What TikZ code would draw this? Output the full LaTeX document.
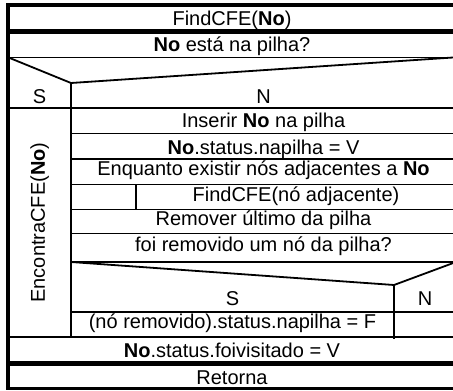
\documentclass[tikz,border=0pt]{standalone}
\usepackage{fontspec}
\setmainfont{Liberation Sans}
\begin{document}
\begin{tikzpicture}[x=1pt,y=-1pt,
  txt/.style={anchor=base,inner sep=0pt,font=\fontsize{20}{24}\selectfont},
  rule/.style={line width=1.8pt},
  heavy/.style={line width=5pt},
  frame/.style={line width=3.6pt},
  hair/.style={line width=1pt}]
\useasboundingbox (0,0) rectangle (453,391);
% frame
\draw[frame] (453,5) -- (8,5) -- (8,388.5) -- (453,388.5);
\draw[heavy] (8,31.7) -- (453,31.7);
\draw[hair] (8,57.3) -- (453,57.3);
% first decision
\draw[rule] (8,57.3) -- (71,83) -- (453,57.5);
\draw[rule] (8,108.3) -- (453,108.3);
\draw[rule] (71,83) -- (71,337);
\foreach \yy in {133.5,159.3,184.5,209.5,233.5}
  \draw[rule] (71,\yy) -- (453,\yy);
\draw[rule] (136,184.5) -- (136,209.5);
% second decision
\draw[line width=2.7pt] (71,262) -- (453,262);
\draw[rule] (71,262) -- (394,285) -- (453,263.1);
\draw[rule] (71,311.7) -- (453,311.7);
\draw[rule] (394,285) -- (394,338.5);
\draw[rule] (8,336.7) -- (453,336.7);
\draw[heavy] (8,363.5) -- (453,363.5);
% texts
\node[txt] (t1) at (232,25) {FindCFE(\textbf{No})};
\node[txt] (t2) at (232,51) {\textbf{No} está na pilha?};
\node[txt] (s1) at (39.5,103.5) {S};
\node[txt] (n1) at (263.5,103.5) {N};
\node[txt] (t3) at (263.5,127.5) {Inserir \textbf{No} na pilha};
\node[txt] (t4) at (263.5,154) {\textbf{No}.status.napilha = V};
\node[txt] (t5) at (263.5,175.5) {Enquanto existir nós adjacentes a \textbf{No}};
\node[txt] (t6) at (296,201.5) {FindCFE(nó adjacente)};
\node[txt] (t7) at (263.5,225.5) {Remover último da pilha};
\node[txt] (t8) at (263.5,251) {foi removido um nó da pilha?};
\node[txt] (s2) at (232.5,305) {S};
\node[txt] (n2) at (425,305) {N};
\node[txt] (t9) at (232.5,328.5) {(nó removido).status.napilha = F};
\node[txt] (t10) at (232,357.5) {\textbf{No}.status.foivisitado = V};
\node[txt] (t11) at (232,384.5) {Retorna};
\node[txt,rotate=90] (enc) at (45,222.5) {EncontraCFE(\textbf{No})};
\end{tikzpicture}
\end{document}
